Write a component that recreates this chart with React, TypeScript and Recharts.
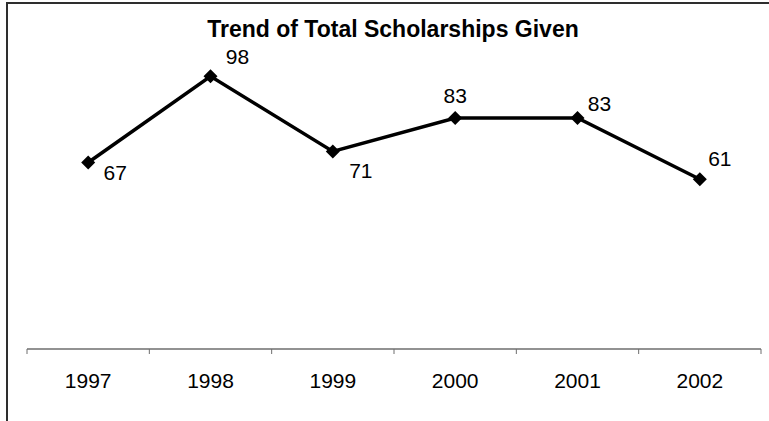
import React from "react";
import { LineChart, Line, XAxis, YAxis, LabelList, Customized } from "recharts";

const years = ["1997", "1998", "1999", "2000", "2001", "2002"];
const scholarships = [67, 98, 71, 83, 83, 61];

const data = years.map((year, i) => ({ idx: i, year, total: scholarships[i] }));

// where each value label sits relative to its marker (Excel-ish placement)
const labelOffsets: [number, number][] = [
  [27, 10],
  [27, -20],
  [28, 19],
  [0, -23],
  [22, -15],
  [20, -21],
];

const W = 769;
const H = 421;
const M = { top: 15, right: 8, left: 27, bottom: 72 };
const band = (W - M.left - M.right) / years.length;
const font = "'Liberation Sans', Arial, sans-serif";

function Diamond(props: any) {
  const { cx, cy } = props;
  if (cx == null || cy == null) return null;
  const r = 7;
  return (
    <polygon
      points={`${cx},${cy - r} ${cx + r},${cy} ${cx},${cy + r} ${cx - r},${cy}`}
      fill="#000"
    />
  );
}

function YearTick(props: any) {
  const { x, y, payload, index } = props;
  const left = x - band / 2;
  const right = x + band / 2;
  return (
    <g>
      <line x1={left} x2={left} y1={y} y2={y + 5} stroke="#6e6e6e" />
      {index === years.length - 1 && (
        <line x1={right} x2={right} y1={y} y2={y + 5} stroke="#6e6e6e" />
      )}
      <text
        x={x}
        y={y + 24}
        dy="0.71em"
        textAnchor="middle"
        fontFamily={font}
        fontSize={21}
        fill="#000"
      >
        {years[payload.value]}
      </text>
    </g>
  );
}

function ValueLabel(props: any) {
  const { x, y, value, index } = props;
  const [dx, dy] = labelOffsets[index] || [0, -20];
  return (
    <text
      x={x + dx}
      y={y + dy}
      dy="0.36em"
      textAnchor="middle"
      fontFamily={font}
      fontSize={21}
      fill="#000"
    >
      {value}
    </text>
  );
}

function Title() {
  return (
    <text
      x={393}
      y={37}
      textAnchor="middle"
      fontFamily={font}
      fontSize={23}
      fontWeight="bold"
      fill="#000"
    >
      Trend of Total Scholarships Given
    </text>
  );
}

export default function App() {
  return (
    <div
      style={{
        position: "fixed",
        left: 0,
        top: 0,
        width: W,
        height: H,
        overflow: "hidden",
        background: "#fff",
      }}
    >
      <div
        style={{
          position: "absolute",
          left: 6,
          top: 2,
          width: W,
          height: H,
          borderTop: "2px solid #2e2e2e",
          borderLeft: "2px solid #2e2e2e",
        }}
      />
      <div style={{ position: "absolute", left: 0, top: 0 }}>
        <LineChart
          width={W}
          height={H}
          data={data}
          margin={{ top: M.top, right: M.right, left: M.left, bottom: 0 }}
        >
          <XAxis
            dataKey="idx"
            type="number"
            domain={[-0.5, years.length - 0.5]}
            ticks={years.map((_, i) => i)}
            interval={0}
            height={M.bottom}
            tickSize={0}
            tickMargin={0}
            tickLine={false}
            axisLine={{ stroke: "#6e6e6e", strokeWidth: 1.3 }}
            tick={<YearTick />}
          />
          <YAxis hide domain={[0, 120]} />
          <Line
            type="linear"
            dataKey="total"
            stroke="#000"
            strokeWidth={3.5}
            dot={<Diamond />}
            activeDot={false}
            isAnimationActive={false}
          >
            <LabelList dataKey="total" content={<ValueLabel />} />
          </Line>
          <Customized component={<Title />} />
        </LineChart>
      </div>
    </div>
  );
}
